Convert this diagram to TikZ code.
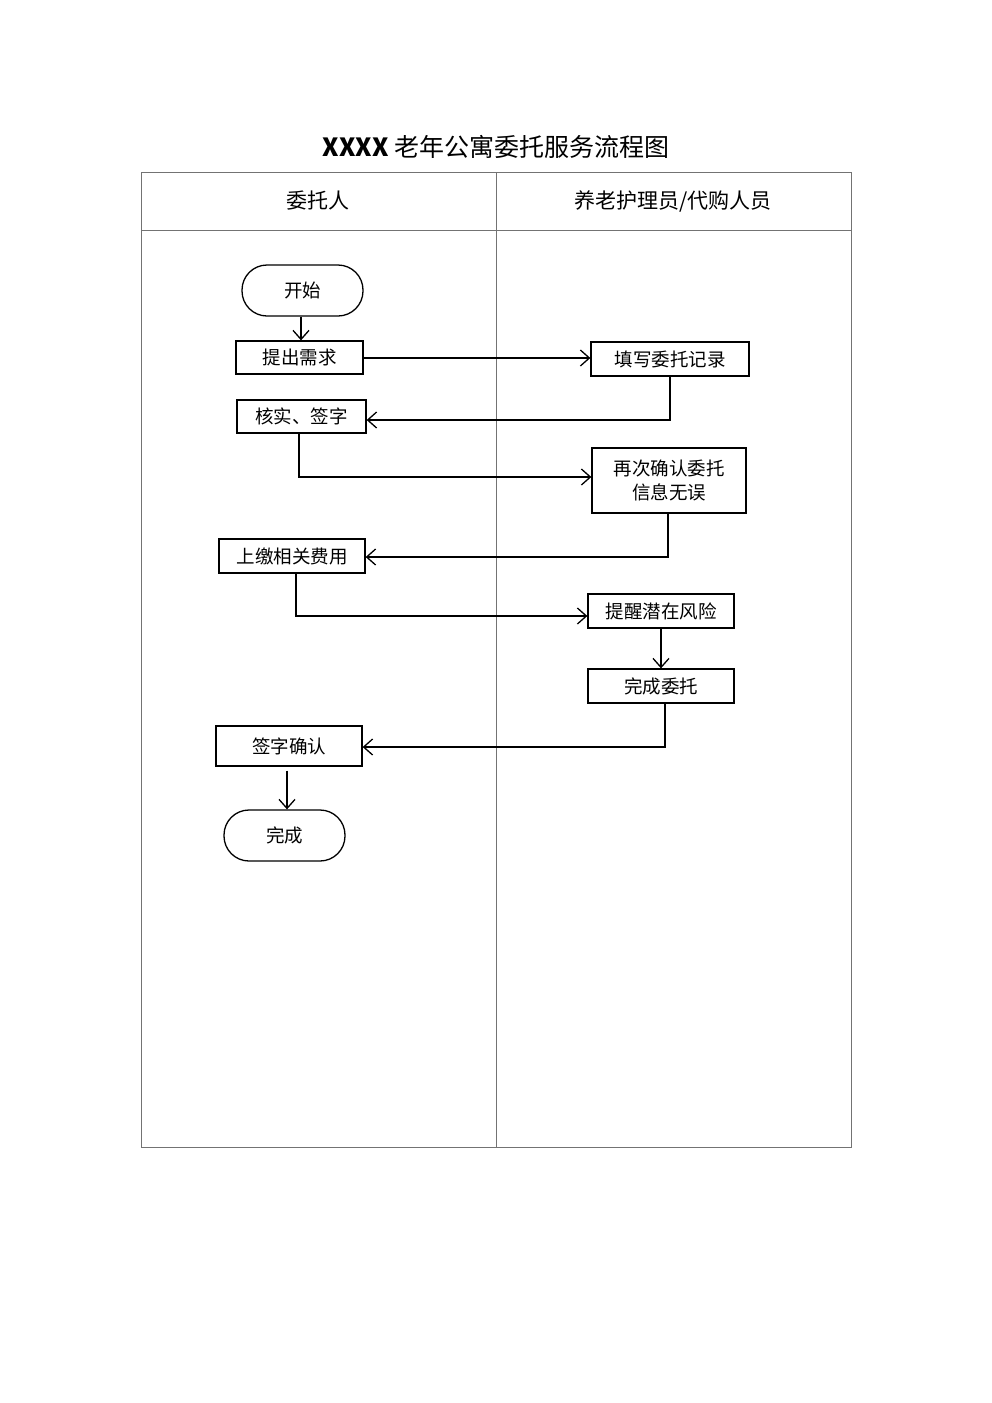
\documentclass[tikz,border=0pt]{standalone}
\usepackage{fontspec}
\setmainfont{Noto Sans CJK SC}
\usetikzlibrary{arrows.meta}
\begin{document}
\begin{tikzpicture}[x=1pt,y=-1pt,
  lane/.style={draw=black!55,line width=0.9pt},
  box/.style={draw=black,line width=1.3pt,rectangle,inner sep=0pt,align=center,font=\fontsize{18.5}{24}\selectfont},
  term/.style={box,rounded corners=25pt},
  flow/.style={draw=black,line width=1.3pt,-{Straight Barb[length=9pt,width=16pt,line width=1.3pt]}}]
\useasboundingbox[fill=white] (0,0) rectangle (992,1403);
% title
\node (title) at (496,147) {\fontsize{25}{30}\selectfont{\bfseries XXXX} 老年公寓委托服务流程图};
% lanes
\draw[lane] (141,172) rectangle (851,1147);
\draw[lane] (141,230) -- (851,230);
\draw[lane] (496,172) -- (496,1147);
\node (h1) at (318,201) {\fontsize{21}{26}\selectfont 委托人};
\node (h2) at (673,201) {\fontsize{21}{26}\selectfont 养老护理员/代购人员};
% nodes
\node[term,minimum width=121pt,minimum height=51pt] (start) at (302.5,290.5) {开始};
\node[box,minimum width=127pt,minimum height=33pt] (n1) at (299.5,357.5) {提出需求};
\node[box,minimum width=158pt,minimum height=34pt] (n2) at (670,359) {填写委托记录};
\node[box,minimum width=129pt,minimum height=33pt] (n3) at (301.5,416.5) {核实、签字};
\node[box,minimum width=154pt,minimum height=65pt] (n4) at (669,480.5) {再次确认委托\\信息无误};
\node[box,minimum width=146pt,minimum height=34pt] (n5) at (292,556) {上缴相关费用};
\node[box,minimum width=146pt,minimum height=34pt] (n6) at (661,611) {提醒潜在风险};
\node[box,minimum width=146pt,minimum height=34pt] (n7) at (661,686) {完成委托};
\node[box,minimum width=146pt,minimum height=40pt] (n8) at (289,746) {签字确认};
\node[term,minimum width=121pt,minimum height=51pt] (end) at (284.5,835.5) {完成};
% connectors
\draw[flow] (start.south -| 301,0) -- (n1.north -| 301,0);
\draw[flow] (n1.east |- 0,358) -- (n2.west |- 0,358);
\draw[flow] (n2.south) -- (670,420) -- (n3.east |- 0,420);
\draw[flow] (n3.south -| 299,0) -- (299,477) -- (n4.west |- 0,477);
\draw[flow] (n4.south -| 668,0) -- (668,557) -- (n5.east |- 0,557);
\draw[flow] (n5.south -| 296,0) -- (296,616) -- (n6.west |- 0,616);
\draw[flow] (n6.south) -- (n7.north);
\draw[flow] (n7.south -| 665,0) -- (665,747) -- (n8.east |- 0,747);
\draw[flow] ([yshift=-4pt]n8.south -| 287,0) -- (end.north -| 287,0);
\end{tikzpicture}
\end{document}
